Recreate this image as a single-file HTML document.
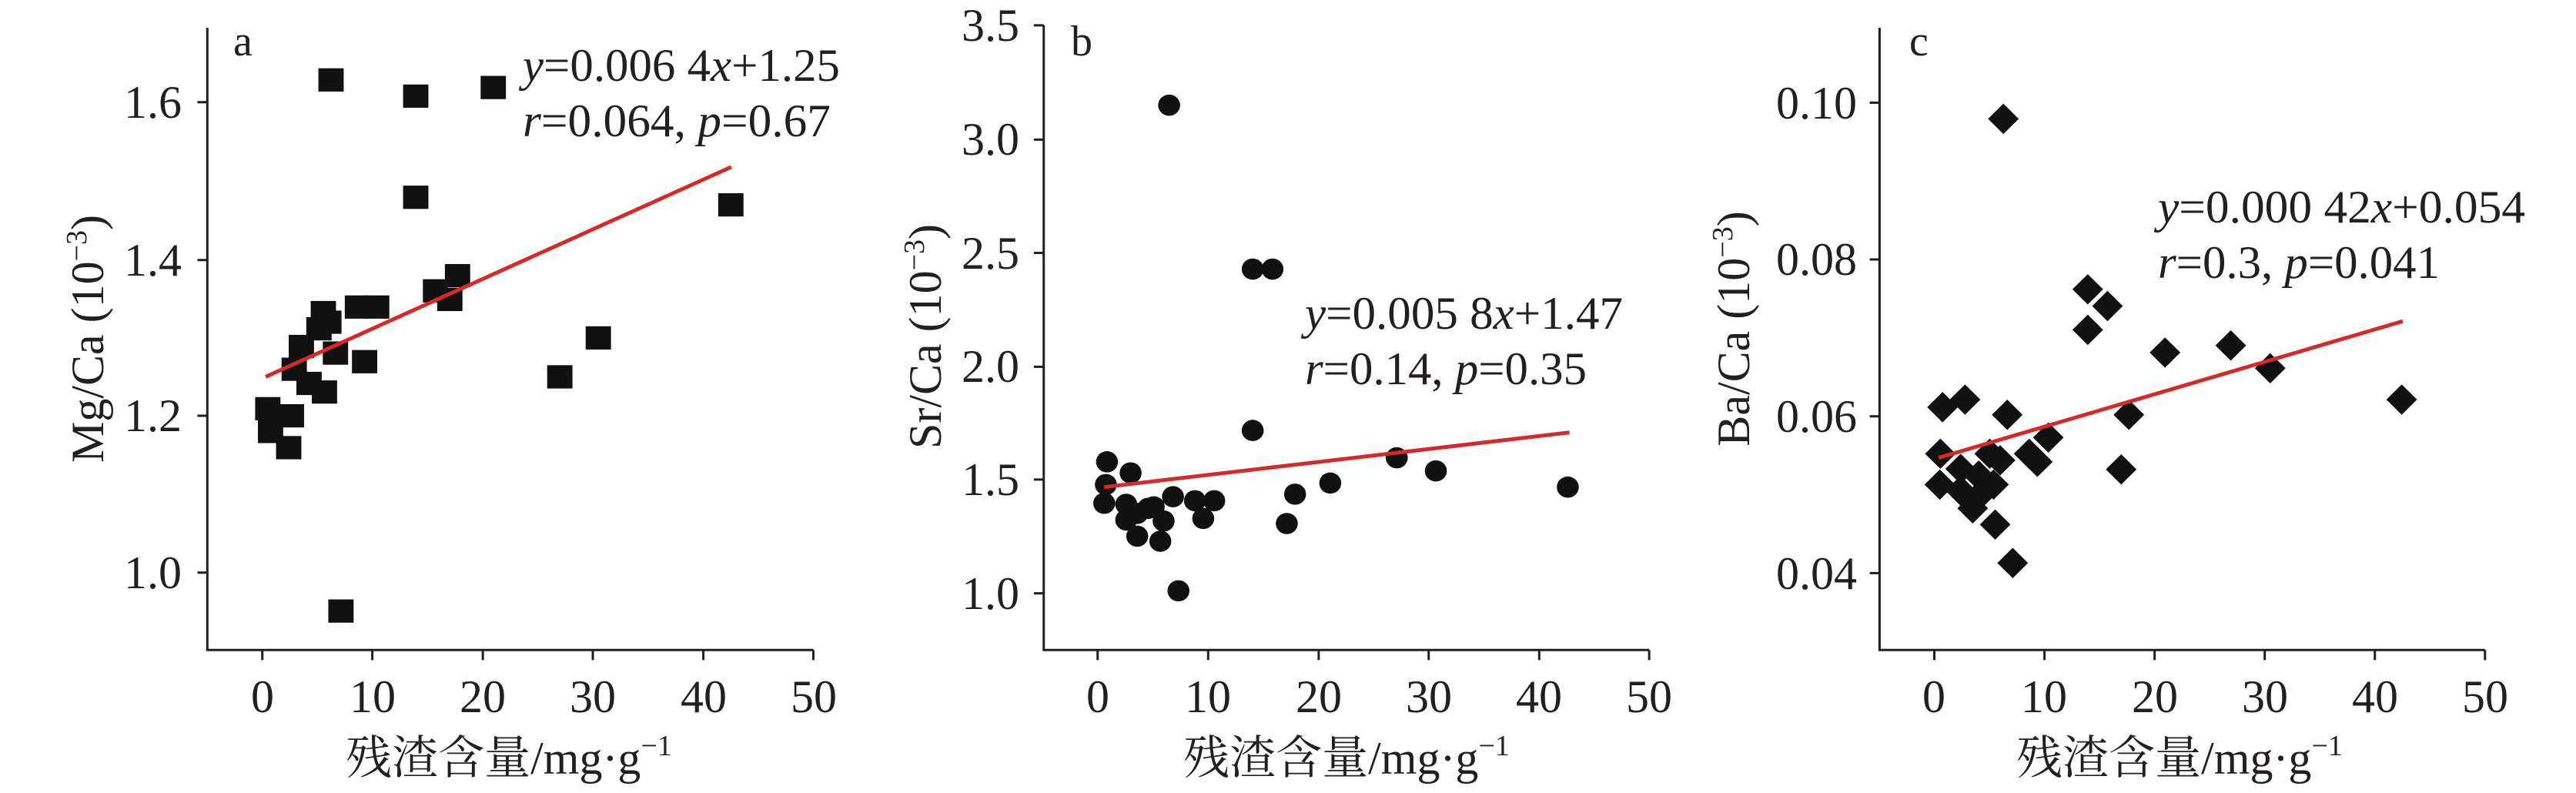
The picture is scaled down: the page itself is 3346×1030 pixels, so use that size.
<!DOCTYPE html>
<html><head><meta charset="utf-8"><style>
html,body{margin:0;padding:0;background:#fff}
svg{display:block}
svg text{font-family:"Liberation Serif","Times New Roman","Noto Serif CJK SC",serif;fill:#231f20}
</style></head><body>
<svg width="3346" height="1030" viewBox="0 0 3346 1030" xmlns="http://www.w3.org/2000/svg" font-family="'Liberation Serif', 'Times New Roman', 'Noto Serif CJK SC', serif">
<defs>
<rect id="sq" x="-23" y="-23" width="46" height="46" fill="#111"/>
<ellipse id="ci" cx="0" cy="0" rx="20" ry="21" fill="#111"/>
<polygon id="di" points="0,-30 28,0 0,30 -28,0" fill="#111"/>
</defs>

<!-- Panel a -->
<g transform="scale(0.7143,0.657)">
<path d="M377,55 V1285 H1479" fill="none" stroke="#231f20" stroke-width="3" vector-effect="non-scaling-stroke"/>
<path d="M477,1285v20M677,1285v20M878,1285v20M1078,1285v20M1279,1285v20M1479,1285v20M377,202h-18M377,514h-18M377,822h-18M377,1132h-18" fill="none" stroke="#231f20" stroke-width="3" vector-effect="non-scaling-stroke"/>
<g>
<use href="#sq" x="602" y="158"/><use href="#sq" x="756" y="190"/><use href="#sq" x="897" y="173"/><use href="#sq" x="756" y="390"/><use href="#sq" x="1329" y="405"/><use href="#sq" x="832" y="545"/><use href="#sq" x="792" y="575"/><use href="#sq" x="818" y="592"/><use href="#sq" x="650" y="607"/><use href="#sq" x="685" y="607"/><use href="#sq" x="588" y="618"/><use href="#sq" x="598" y="637"/><use href="#sq" x="580" y="650"/><use href="#sq" x="548" y="685"/><use href="#sq" x="610" y="698"/><use href="#sq" x="663" y="715"/><use href="#sq" x="535" y="730"/><use href="#sq" x="562" y="758"/><use href="#sq" x="590" y="775"/><use href="#sq" x="1018" y="745"/><use href="#sq" x="1088" y="668"/><use href="#sq" x="487" y="808"/><use href="#sq" x="530" y="822"/><use href="#sq" x="492" y="853"/><use href="#sq" x="525" y="885"/><use href="#sq" x="620" y="1208"/>
</g>
<line x1="483" y1="745" x2="1330" y2="330" stroke="#d42a2a" stroke-width="5" vector-effect="non-scaling-stroke"/>
</g>
<g font-size="60">
<text x="236" y="153" text-anchor="end">1.6</text>
<text x="236" y="358" text-anchor="end">1.4</text>
<text x="236" y="560" text-anchor="end">1.2</text>
<text x="236" y="764" text-anchor="end">1.0</text>
<g text-anchor="middle"><text x="341" y="925">0</text><text x="484" y="925">10</text><text x="627" y="925">20</text><text x="770" y="925">30</text><text x="914" y="925">40</text><text x="1057" y="925">50</text></g>
<text x="303" y="72" font-size="56">a</text>
<text x="679" y="105" textLength="412" lengthAdjust="spacingAndGlyphs"><tspan font-style="italic">y</tspan>=0.006 4<tspan font-style="italic">x</tspan>+1.25</text>
<text x="679" y="177" textLength="400" lengthAdjust="spacingAndGlyphs"><tspan font-style="italic">r</tspan>=0.064, <tspan font-style="italic">p</tspan>=0.67</text>
<text transform="translate(134,440) rotate(-90)" text-anchor="middle">Mg/Ca (10<tspan font-size="38" dy="-22">−3</tspan><tspan dy="22">)</tspan></text>
<text x="661" y="1005" text-anchor="middle">残渣含量/mg·g<tspan font-size="38" dy="-24">−1</tspan></text>
</g>

<!-- Panel b -->
<g transform="translate(1120,0) scale(0.7143,0.657)">
<path d="M330,50 V1285 H1431" fill="none" stroke="#231f20" stroke-width="3" vector-effect="non-scaling-stroke"/>
<path d="M428,1285v20M629,1285v20M830,1285v20M1030,1285v20M1231,1285v20M1431,1285v20M330,50h-18M330,276h-18M330,500h-18M330,725h-18M330,948h-18M330,1173h-18" fill="none" stroke="#231f20" stroke-width="3" vector-effect="non-scaling-stroke"/>
<g>
<use href="#ci" x="558" y="208"/><use href="#ci" x="710" y="532"/><use href="#ci" x="746" y="532"/><use href="#ci" x="710" y="851"/><use href="#ci" x="445" y="913"/><use href="#ci" x="488" y="935"/><use href="#ci" x="443" y="958"/><use href="#ci" x="440" y="995"/><use href="#ci" x="480" y="997"/><use href="#ci" x="565" y="982"/><use href="#ci" x="605" y="990"/><use href="#ci" x="640" y="990"/><use href="#ci" x="520" y="1005"/><use href="#ci" x="530" y="1002"/><use href="#ci" x="500" y="1015"/><use href="#ci" x="480" y="1028"/><use href="#ci" x="548" y="1030"/><use href="#ci" x="620" y="1025"/><use href="#ci" x="500" y="1060"/><use href="#ci" x="542" y="1070"/><use href="#ci" x="575" y="1168"/><use href="#ci" x="772" y="1035"/><use href="#ci" x="787" y="977"/><use href="#ci" x="851" y="955"/><use href="#ci" x="972" y="905"/><use href="#ci" x="1043" y="931"/><use href="#ci" x="1283" y="963"/>
</g>
<line x1="440" y1="963" x2="1286" y2="855" stroke="#d42a2a" stroke-width="5" vector-effect="non-scaling-stroke"/>
</g>
<g font-size="60">
<g text-anchor="end">
<text x="1324" y="53">3.5</text><text x="1324" y="201">3.0</text><text x="1324" y="349">2.5</text><text x="1324" y="496">2.0</text><text x="1324" y="643">1.5</text><text x="1324" y="791">1.0</text>
</g>
<g text-anchor="middle"><text x="1426" y="925">0</text><text x="1569" y="925">10</text><text x="1713" y="925">20</text><text x="1856" y="925">30</text><text x="1999" y="925">40</text><text x="2142" y="925">50</text></g>
<text x="1391" y="72" font-size="56">b</text>
<text x="1695" y="427" textLength="413" lengthAdjust="spacingAndGlyphs"><tspan font-style="italic">y</tspan>=0.005 8<tspan font-style="italic">x</tspan>+1.47</text>
<text x="1695" y="499" textLength="366" lengthAdjust="spacingAndGlyphs"><tspan font-style="italic">r</tspan>=0.14, <tspan font-style="italic">p</tspan>=0.35</text>
<text transform="translate(1222,437) rotate(-90)" text-anchor="middle">Sr/Ca (10<tspan font-size="38" dy="-22">−3</tspan><tspan dy="22">)</tspan></text>
<text x="1749" y="1005" text-anchor="middle">残渣含量/mg·g<tspan font-size="38" dy="-24">−1</tspan></text>
</g>

<!-- Panel c -->
<g transform="translate(2230,0) scale(0.7117,0.657)">
<path d="M297,55 V1285 H1402" fill="none" stroke="#231f20" stroke-width="3" vector-effect="non-scaling-stroke"/>
<path d="M397,1285v20M598,1285v20M799,1285v20M1000,1285v20M1201,1285v20M1402,1285v20M297,203h-18M297,513h-18M297,823h-18M297,1133h-18" fill="none" stroke="#231f20" stroke-width="3" vector-effect="non-scaling-stroke"/>
<g>
<use href="#di" x="523" y="235"/><use href="#di" x="677" y="572"/><use href="#di" x="713" y="605"/><use href="#di" x="677" y="652"/><use href="#di" x="818" y="697"/><use href="#di" x="938" y="683"/><use href="#di" x="1010" y="728"/><use href="#di" x="1250" y="790"/><use href="#di" x="453" y="790"/><use href="#di" x="412" y="805"/><use href="#di" x="530" y="820"/><use href="#di" x="752" y="820"/><use href="#di" x="605" y="865"/><use href="#di" x="408" y="897"/><use href="#di" x="498" y="897"/><use href="#di" x="517" y="910"/><use href="#di" x="570" y="897"/><use href="#di" x="585" y="913"/><use href="#di" x="445" y="927"/><use href="#di" x="478" y="940"/><use href="#di" x="505" y="958"/><use href="#di" x="488" y="970"/><use href="#di" x="445" y="970"/><use href="#di" x="407" y="958"/><use href="#di" x="467" y="1005"/><use href="#di" x="508" y="1037"/><use href="#di" x="540" y="1113"/><use href="#di" x="738" y="928"/>
</g>
<line x1="405" y1="905" x2="1252" y2="635" stroke="#d42a2a" stroke-width="5" vector-effect="non-scaling-stroke"/>
</g>
<g font-size="60">
<g text-anchor="end">
<text x="2412" y="154">0.10</text><text x="2412" y="357">0.08</text><text x="2412" y="561">0.06</text><text x="2412" y="765">0.04</text>
</g>
<g text-anchor="middle"><text x="2512" y="925">0</text><text x="2655" y="925">10</text><text x="2799" y="925">20</text><text x="2942" y="925">30</text><text x="3085" y="925">40</text><text x="3228" y="925">50</text></g>
<text x="2480" y="72" font-size="56">c</text>
<text x="2803" y="289" textLength="477" lengthAdjust="spacingAndGlyphs"><tspan font-style="italic">y</tspan>=0.000 42<tspan font-style="italic">x</tspan>+0.054</text>
<text x="2803" y="361" textLength="366" lengthAdjust="spacingAndGlyphs"><tspan font-style="italic">r</tspan>=0.3, <tspan font-style="italic">p</tspan>=0.041</text>
<text transform="translate(2272,427) rotate(-90)" text-anchor="middle">Ba/Ca (10<tspan font-size="38" dy="-22">−3</tspan><tspan dy="22">)</tspan></text>
<text x="2831" y="1005" text-anchor="middle">残渣含量/mg·g<tspan font-size="38" dy="-24">−1</tspan></text>
</g>
</svg>
</body></html>
